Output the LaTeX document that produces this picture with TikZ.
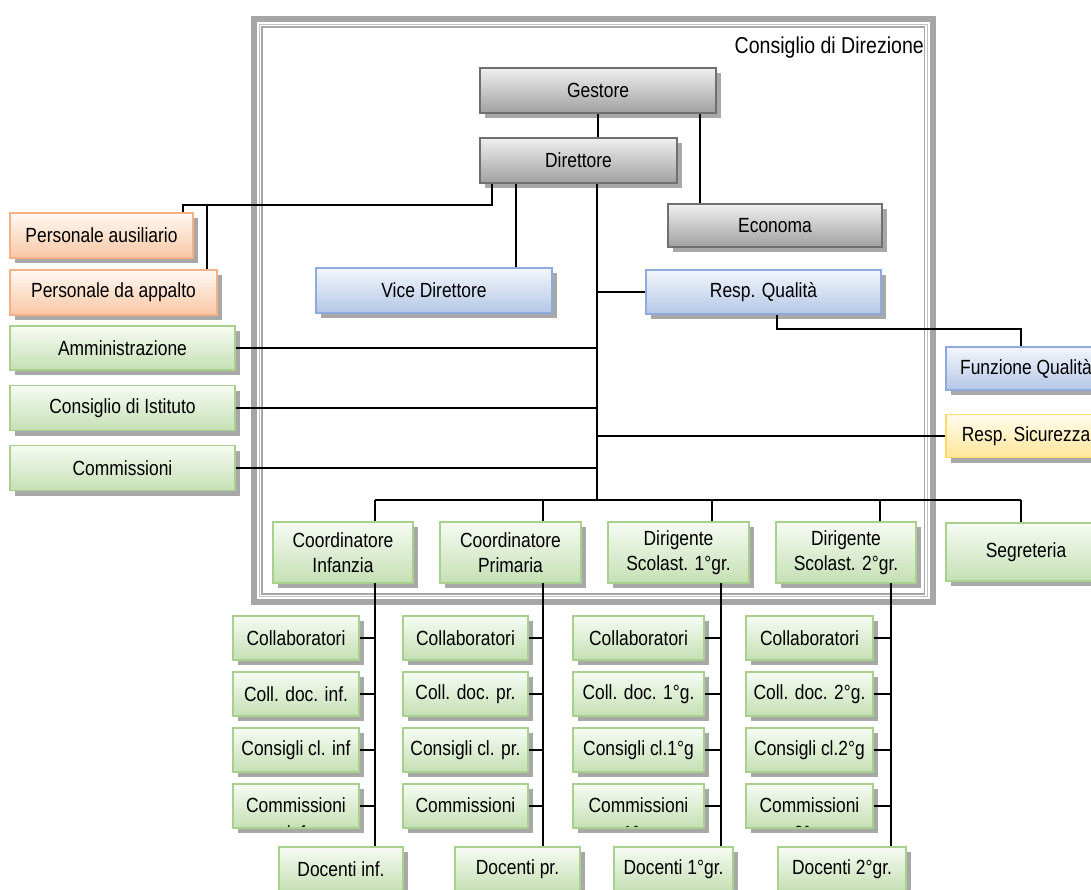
\documentclass[tikz,border=0pt]{standalone}
\usepackage{fontspec}
\setmainfont{Liberation Sans}[FakeStretch=0.85]
\usetikzlibrary{shadows}
\definecolor{shd}{HTML}{A8A8A8}
\definecolor{grB}{HTML}{707070}
\definecolor{grT}{HTML}{F0F0F0}
\definecolor{grD}{HTML}{A0A0A0}
\definecolor{orB}{HTML}{F4B183}
\definecolor{orT}{HTML}{FFF8F3}
\definecolor{orD}{HTML}{F8C7A4}
\definecolor{blB}{HTML}{8FAADC}
\definecolor{blT}{HTML}{F3F6FB}
\definecolor{blD}{HTML}{B4C7E7}
\definecolor{gnB}{HTML}{A9D18E}
\definecolor{gnT}{HTML}{F6FBF3}
\definecolor{gnD}{HTML}{C5E0B4}
\definecolor{yeB}{HTML}{FFD966}
\definecolor{yeT}{HTML}{FFFCEE}
\definecolor{yeD}{HTML}{FFE699}
\definecolor{frm}{HTML}{A6A6A6}
\begin{document}
\begin{tikzpicture}[x=1pt,y=-1pt,
  plain/.style={font=\fontsize{20.5}{25}\selectfont, inner sep=0pt, align=center},
  box/.style={rectangle, line width=1.8pt, inner sep=0pt, align=center,
    font=\fontsize{20.5}{25}\selectfont,
    drop shadow={shadow xshift=5pt, shadow yshift=-5pt, fill=shd, opacity=1}},
  sz/.style 2 args={minimum width=#1, minimum height=#2},
  graybox/.style={box, draw=grB, top color=grT, bottom color=grD, line width=2.2pt},
  orbox/.style={box, draw=orB, top color=orT, bottom color=orD},
  blbox/.style={box, draw=blB, top color=blT, bottom color=blD},
  gnbox/.style={box, draw=gnB, top color=gnT, bottom color=gnD},
  yebox/.style={box, draw=yeB, top color=yeT, bottom color=yeD},
  trunc/.style={path picture={
    \node[plain, draw=none, fill=none, anchor=base] at ([yshift=-6pt]path picture bounding box.center) {Commissioni};
    \node[plain, draw=none, fill=none, anchor=base] at ([yshift=-34.5pt]path picture bounding box.center) {#1};}},
  conn/.style={line width=2pt, draw=black}
]
\useasboundingbox (0,0) rectangle (1091,889);
% frame
\draw[line width=6pt, frm] (254,19) rectangle (932.5,602);
\draw[line width=1pt, frm!70] (259.5,24.5) rectangle (927,596.5);
\draw[line width=1.4pt, frm] (262,27) rectangle (924.5,594);
\node[plain, font=\fontsize{23}{28}\selectfont, anchor=east] (cdd) at (924,48) {Consiglio di Direzione};

% top nodes
\node[graybox, sz={236}{45}] (gestore) at (598,90.5) {Gestore};
\node[graybox, sz={197}{45}] (direttore) at (578.5,160.5) {Direttore};
\node[graybox, sz={214}{43}] (economa) at (775,225.5) {Economa};
\node[blbox, sz={236}{45}] (vice) at (434,290.5) {Vice Direttore};
\node[blbox, sz={235}{44}] (respq) at (763.5,292) {Resp. Qualità};
\node[blbox, sz={160}{43}] (funzq) at (1026,368.5) {Funzione Qualità};
\node[yebox, sz={160}{43}] (respsic) at (1026,436) {Resp. Sicurezza};
\node[orbox, sz={183}{45}] (paus) at (101.5,235.5) {Personale ausiliario};
\node[orbox, sz={207}{45}] (papp) at (113.5,292.5) {Personale da appalto};
\node[gnbox, sz={225}{44}] (ammin) at (122.5,348) {Amministrazione};
\node[gnbox, sz={225}{45}] (consist) at (122.5,408) {Consiglio di Istituto};
\node[gnbox, sz={225}{45}] (commis) at (122.5,468) {Commissioni};

% second row
\node[gnbox, sz={140}{61}] (coordinf) at (343,552.5) {Coordinatore\\Infanzia};
\node[gnbox, sz={141}{61}] (coordprim) at (510.5,552.5) {Coordinatore\\Primaria};
\node[gnbox, sz={141}{61}] (dir1) at (678.5,552.5) {Dirigente\\Scolast. 1°gr.};
\node[gnbox, sz={140}{61}] (dir2) at (846,552.5) {Dirigente\\Scolast. 2°gr.};
\node[gnbox, sz={160}{58}] (segr) at (1026,552) {Segreteria};

% third rows
\node[gnbox, sz={126}{43.5}] (a1) at (296,638) {Collaboratori};
\node[gnbox, sz={126}{43.5}] (b1) at (296,694) {Coll. doc. inf.};
\node[gnbox, sz={126}{43.5}] (c1) at (296,750) {Consigli cl. inf};
\node[gnbox, sz={126}{44}, trunc={inf}] (d1) at (296,806) {};
\node[gnbox, sz={124}{44}] (e1) at (341,869) {Docenti inf.};

\node[gnbox, sz={125}{43.5}] (a2) at (465.5,638) {Collaboratori};
\node[gnbox, sz={125}{43.5}] (b2) at (465.5,694) {Coll. doc. pr.};
\node[gnbox, sz={125}{43.5}] (c2) at (465.5,750) {Consigli cl. pr.};
\node[gnbox, sz={125}{44}, trunc={pr}] (d2) at (465.5,806) {};
\node[gnbox, sz={125}{44}] (e2) at (517.5,869) {Docenti pr.};

\node[gnbox, sz={131}{43.5}] (a3) at (638.5,638) {Collaboratori};
\node[gnbox, sz={131}{43.5}] (b3) at (638.5,694) {Coll. doc. 1°g.};
\node[gnbox, sz={131}{43.5}] (c3) at (638.5,750) {Consigli cl.1°g};
\node[gnbox, sz={131}{44}, trunc={1°g.}] (d3) at (638.5,806) {};
\node[gnbox, sz={119}{44}] (e3) at (673.5,869) {Docenti 1°gr.};

\node[gnbox, sz={127}{43.5}] (a4) at (809.5,638) {Collaboratori};
\node[gnbox, sz={127}{43.5}] (b4) at (809.5,694) {Coll. doc. 2°g.};
\node[gnbox, sz={127}{43.5}] (c4) at (809.5,750) {Consigli cl.2°g};
\node[gnbox, sz={127}{44}, trunc={2°g.}] (d4) at (809.5,806) {};
\node[gnbox, sz={128}{44}] (e4) at (842,869) {Docenti 2°gr.};

% connectors
\coordinate (sp) at (597,500);
\coordinate (dl) at (492,205);
\coordinate (fq) at (1021,329);
\coordinate (busL) at (375,500);
\coordinate (busR) at (1021,500);
\coordinate (v1) at (375,583);
\coordinate (v2) at (543,583);
\coordinate (v3) at (721,583);
\coordinate (v4) at (891,583);

\draw[conn] (gestore.south) -- (gestore.south |- direttore.north);
\draw[conn] ([xshift=102pt]gestore.south) -- ([xshift=102pt]gestore.south |- economa.north);
\draw[conn] (dl |- direttore.south) -- (dl) -| ([xshift=81.5pt]paus.north);
\draw[conn] ([xshift=93.5pt]papp.north) -- ([xshift=93.5pt]papp.north |- dl);
\draw[conn] ([xshift=82pt]vice.north) -- ([xshift=82pt]vice.north |- direttore.south);
\draw[conn] (sp |- direttore.south) -- (sp);
\draw[conn] (respq.west -| sp) -- (respq.west);
\draw[conn] (ammin.east) -- (ammin.east -| sp);
\draw[conn] (consist.east) -- (consist.east -| sp);
\draw[conn] (commis.east) -- (commis.east -| sp);
\draw[conn] (respsic.west -| sp) -- (respsic.west);
\draw[conn] ([xshift=13.5pt]respq.south) |- (fq) -- (fq |- funzq.north);
\draw[conn] (busL) -- (busR);
\foreach \n/\dx in {coordinf/32, coordprim/32.5, dir1/33.5, dir2/34, segr/-5}
  \draw[conn] ([xshift=\dx pt]\n.north) -- ([xshift=\dx pt]\n.north |- busL);
\foreach \v/\e in {v1/e1, v2/e2, v3/e3, v4/e4}
  \draw[conn] (\v) -- (\v |- \e.north);
\foreach \v/\c in {v1/1, v2/2, v3/3, v4/4} {
  \draw[conn] (a\c.east) -- (a\c.east -| \v);
  \draw[conn] (b\c.east) -- (b\c.east -| \v);
  \draw[conn] (c\c.east) -- (c\c.east -| \v);
  \draw[conn] (d\c.east) -- (d\c.east -| \v);
}
\end{tikzpicture}
\end{document}
